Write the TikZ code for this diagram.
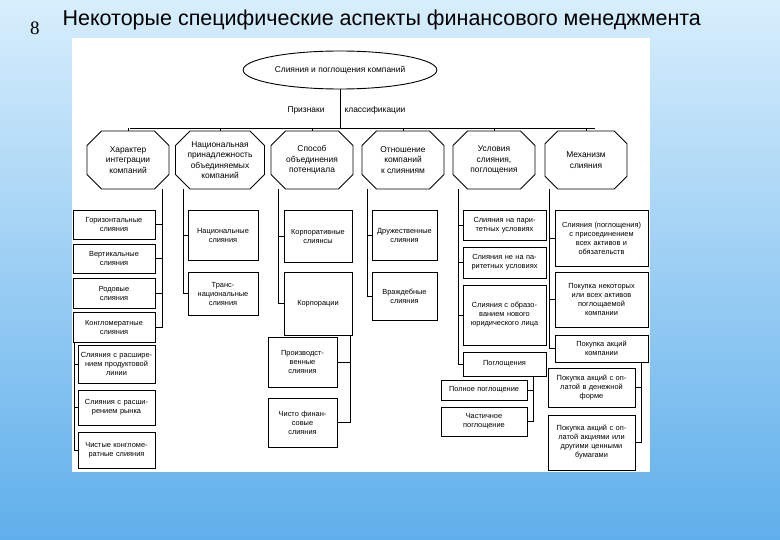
\documentclass[tikz,border=0pt]{standalone}
\usepackage{fontspec}
\setmainfont{Liberation Sans}
\newfontfamily\serifnum{Liberation Serif}
\usetikzlibrary{shapes.misc,shapes.geometric}
\newcommand{\bx}[6]{%
  \pgfmathsetmacro{\cxa}{(#2+#4)/2}\pgfmathsetmacro{\cya}{(#3+#5)/2}%
  \pgfmathsetmacro{\wa}{#4-#2}\pgfmathsetmacro{\ha}{#5-#3}%
  \node[bxs,minimum width=\wa pt,minimum height=\ha pt,text width=\wa pt-3pt] (#1) at (\cxa,\cya) {#6};}
\newcommand{\oc}[3]{%
  \node[octs] (#1) at (#2,160) {#3};}
\begin{document}
\begin{tikzpicture}[x=1pt,y=-1pt,
  bxs/.style={draw,line width=0.9pt,inner sep=0pt,align=center,font=\fontsize{7.4}{9}\selectfont},
  octs/.style={draw,line width=0.9pt,chamfered rectangle,chamfered rectangle xsep=11pt,minimum width=82pt,minimum height=58pt,inner sep=1pt,align=center,font=\fontsize{8.4}{10.5}\selectfont},
  ln/.style={line width=0.9pt}]
\shade[top color={rgb,255:red,215;green,238;blue,252},bottom color={rgb,255:red,95;green,175;blue,235}] (0,0) rectangle (780,540);
\fill[white] (72,38) rectangle (650,472);
\node[font=\serifnum\fontsize{19}{21}\selectfont] (num) at (35,28) {8};
\node[anchor=west,font=\fontsize{21.5}{24}\selectfont] (title) at (59,20) {Некоторые специфические аспекты финансового менеджмента};
\node[draw,ellipse,line width=0.9pt,minimum width=180pt,minimum height=38pt,font=\fontsize{8.4}{10}\selectfont] (root) at (340,70) {Слияния и поглощения компаний};
\node[font=\fontsize{8.4}{10}\selectfont] (p1) at (306,110) {Признаки};
\node[font=\fontsize{8.4}{10}\selectfont] (p2) at (375,110) {классификации};
\oc{o1}{128}{Характер\\интеграции\\компаний}
\oc{o2}{220}{Национальная\\принадлежность\\объединяемых\\компаний}
\oc{o3}{312}{Способ\\объединения\\потенциала}
\oc{o4}{403}{Отношение\\компаний\\к слияниям}
\oc{o5}{494}{Условия\\слияния,\\поглощения}
\oc{o6}{586}{Механизм\\слияния}
\coordinate (barL) at (130,128);
\coordinate (barR) at (595,128);
\draw[ln] (root.south) -- (root.south |- barL);
\draw[ln] (barL) -- (barR);
\foreach \o in {o1,o2,o3,o4,o5,o6}{\draw[ln] (\o.north |- barL) -- (\o.north);}
% column 1
\bx{a1}{73}{210}{155}{239}{Горизонтальные\\слияния}
\bx{a2}{73}{244}{155}{273}{Вертикальные\\слияния}
\bx{a3}{73}{278}{155}{308}{Родовые\\слияния}
\bx{a4}{73}{312}{155}{342}{Конгломератные\\слияния}
\bx{a5}{78}{345}{155}{383}{Слияния с расшире-\\нием продуктовой\\линии}
\bx{a6}{78}{390}{155}{425}{Слияния с расши-\\рением рынка}
\bx{a7}{78}{432}{155}{468}{Чистые конгломе-\\ратные слияния}
\draw[ln] (o1.south -| 162,0) |- (a4.east);
\foreach \b in {a1,a2,a3}{\draw[ln] (\b.east) -- (\b.east -| 162,0);}
\draw[ln] (a4.south -| 74,0) |- (a7.west);
\foreach \b in {a5,a6}{\draw[ln] (\b.west) -- (\b.west -| 74,0);}
% column 2
\bx{b1}{188}{210}{258}{260}{Национальные\\слияния}
\bx{b2}{188}{272}{258}{315}{Транс-\\национальные\\слияния}
\draw[ln] (o2.south -| 183,0) |- (b2.west);
\draw[ln] (b1.west) -- (b1.west -| 183,0);
% column 3
\bx{c1}{284}{210}{352}{262}{Корпоративные\\слиянсы}
\bx{c2}{284}{272}{352}{335}{Корпорации}
\bx{c3}{268}{337}{337}{387}{Производст-\\венные\\слияния}
\bx{c4}{268}{398}{337}{447}{Чисто финан-\\совые\\слияния}
\draw[ln] (o3.south -| 278,0) |- (c2.west);
\draw[ln] (c1.west) -- (c1.west -| 278,0);
\draw[ln] (c2.south -| 350,0) |- (c4.east);
\draw[ln] (c3.east) -- (c3.east -| 350,0);
% column 4
\bx{d1}{372}{210}{437}{260}{Дружественные\\слияния}
\bx{d2}{372}{272}{437}{320}{Враждебные\\слияния}
\draw[ln] (o4.south -| 367,0) |- (d2.west);
\draw[ln] (d1.west) -- (d1.west -| 367,0);
% column 5
\bx{e1}{463}{210}{546}{240}{Слияния на пари-\\тетных условиях}
\bx{e2}{463}{247}{546}{278}{Слияния не на па-\\ритетных условиях}
\bx{e3}{463}{285}{546}{345}{Слияния с образо-\\ванием нового\\юридического лица}
\bx{e4}{463}{352}{546}{376}{Поглощения}
\bx{e5}{441}{380}{527}{400}{Полное поглощение}
\bx{e6}{441}{407}{527}{436}{Частичное\\поглощение}
\draw[ln] (o5.south -| 458,0) |- (e4.west);
\foreach \b in {e1,e2,e3}{\draw[ln] (\b.west) -- (\b.west -| 458,0);}
\draw[ln] (e4.south -| 533,0) |- (e6.east);
\draw[ln] (e5.east) -- (e5.east -| 533,0);
% column 6
\bx{f1}{555}{210}{648}{266}{Слияния (поглощения)\\с присоединением\\всех активов и\\обязательств}
\bx{f2}{555}{272}{648}{327}{Покупка некоторых\\или всех активов\\поглощаемой\\компании}
\bx{f3}{555}{335}{648}{362}{Покупка акций\\компании}
\bx{f4}{548}{368}{635}{407}{Покупка акций с оп-\\латой в денежной\\форме}
\bx{f5}{548}{415}{635}{470}{Покупка акций с оп-\\латой акциями или\\другими ценными\\бумагами}
\draw[ln] (o6.south -| 549,0) |- (f3.west);
\foreach \b in {f1,f2}{\draw[ln] (\b.west) -- (\b.west -| 549,0);}
\draw[ln] (f3.south -| 641,0) |- (f5.east);
\draw[ln] (f4.east) -- (f4.east -| 641,0);
\end{tikzpicture}
\end{document}
